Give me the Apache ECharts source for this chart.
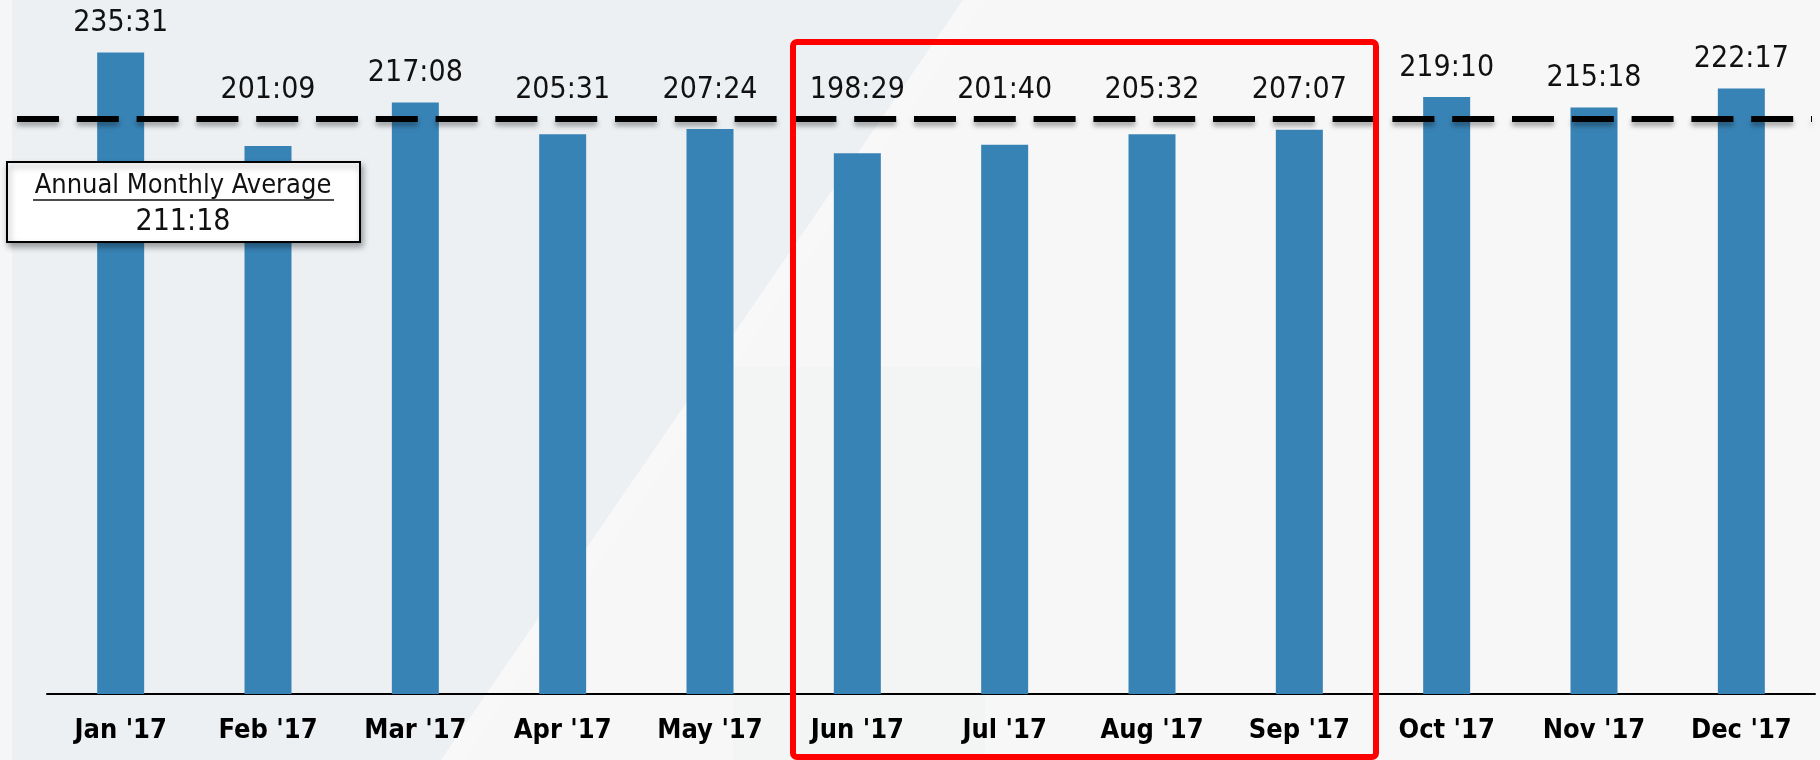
<!DOCTYPE html>
<html>
<head>
<meta charset="utf-8">
<style>
  html, body { margin: 0; padding: 0; background: #f7f7f7; }
  #main { width: 1820px; height: 760px; }
</style>
<script src="https://cdn.jsdelivr.net/npm/echarts@6/dist/echarts.min.js"></script>
</head>
<body>
<div id="main"></div>
<script>
// monthly totals, hours:minutes
var months = ["Jan '17", "Feb '17", "Mar '17", "Apr '17", "May '17", "Jun '17",
              "Jul '17", "Aug '17", "Sep '17", "Oct '17", "Nov '17", "Dec '17"];
var durations = ['235:31', '201:09', '217:08', '205:31', '207:24', '198:29',
                 '201:40', '205:32', '207:07', '219:10', '215:18', '222:17'];
var averageLabel = '211:18';

function toHours(s) {
    var p = s.split(':');
    return Number(p[0]) + Number(p[1]) / 60;
}
var values = durations.map(toHours);
var avgValue = toHours(averageLabel);

var FONT = "'DejaVu Sans Condensed', 'DejaVu Sans', sans-serif";

var myChart = echarts.init(document.getElementById('main'));

var option = {
    backgroundColor: '#f7f7f7',
    animation: false,
    grid: {left: 47, right: 5, top: 13, bottom: 66},
    xAxis: {
        type: 'category',
        data: months,
        axisLine: {lineStyle: {color: '#000', width: 2}},
        axisTick: {show: false},
        axisLabel: {
            color: '#000',
            fontFamily: FONT,
            fontWeight: 'bold',
            fontSize: 27,
            margin: 23
        }
    },
    yAxis: {
        type: 'value',
        min: 0,
        max: 250,
        show: false
    },
    graphic: [
        // slide background shapes
        {
            type: 'polygon', z: 0, silent: true,
            shape: {points: [[0, 0], [963, 0], [441, 760], [0, 760]]},
            style: {fill: '#edf0f3'}
        },
        {
            type: 'polygon', z: 0, silent: true,
            shape: {points: [[963, 0], [985, 0], [463, 760], [441, 760]]},
            style: {fill: 'rgba(255,255,255,0.22)'}
        },
        {
            type: 'rect', z: 0, silent: true,
            shape: {x: 733, y: 367, width: 252, height: 393},
            style: {fill: 'rgba(226,240,232,0.2)'}
        },
        {
            type: 'rect', z: 0, silent: true,
            shape: {x: 0, y: 0, width: 12, height: 760},
            style: {fill: '#f5f6f7'}
        },
        // highlight box Jun - Sep
        {
            type: 'rect', z: 50, silent: true,
            shape: {x: 793, y: 42, width: 583, height: 715, r: 4},
            style: {fill: null, stroke: '#ff0000', lineWidth: 6}
        },
        // average call-out
        {
            type: 'group', z: 100,
            children: [
                {
                    type: 'rect', z: 100,
                    shape: {x: 7, y: 162, width: 353, height: 80},
                    style: {
                        fill: '#ffffff', stroke: '#000', lineWidth: 2,
                        shadowBlur: 6, shadowOffsetX: 2, shadowOffsetY: 4,
                        shadowColor: 'rgba(0,0,0,0.35)'
                    }
                },
                {
                    type: 'text', z: 101,
                    style: {
                        x: 183, y: 186, text: 'Annual Monthly Average',
                        fill: '#111', font: '27px ' + FONT,
                        align: 'center', verticalAlign: 'middle'
                    }
                },
                {
                    type: 'line', z: 101,
                    shape: {x1: 33, y1: 200, x2: 334, y2: 200},
                    style: {stroke: '#111', lineWidth: 1.5}
                },
                {
                    type: 'text', z: 101,
                    style: {
                        x: 183, y: 222, text: averageLabel,
                        fill: '#111', font: '30px ' + FONT,
                        align: 'center', verticalAlign: 'middle'
                    }
                }
            ]
        }
    ],
    series: [
        {
            type: 'bar',
            data: values,
            barWidth: 47,
            clip: false,
            itemStyle: {color: '#3883b6'},
            label: {
                show: true,
                position: 'top',
                color: '#111',
                fontFamily: FONT,
                fontSize: 30,
                formatter: function (p) { return durations[p.dataIndex]; }
            },
            // keep labels above the dashed average line
            labelLayout: function (p) {
                var r = p.rect;
                var base = r.y + r.height;
                var perUnit = r.height / values[p.dataIndex];
                var avgY = base - avgValue * perUnit;
                return {
                    x: r.x + r.width / 2,
                    y: Math.min(r.y - 29, avgY - 28),
                    align: 'center',
                    verticalAlign: 'middle'
                };
            },
            markLine: {
                silent: true,
                symbol: 'none',
                label: {show: false},
                lineStyle: {
                    color: '#000',
                    width: 6,
                    type: [42, 17.8],
                    cap: 'butt',
                    shadowBlur: 5,
                    shadowOffsetY: 4,
                    shadowColor: 'rgba(0,0,0,0.35)'
                },
                data: [[{yAxis: avgValue, x: 17}, {yAxis: avgValue, x: 1812}]]
            }
        }
    ]
};

myChart.setOption(option);

window.onresize = function () {
    myChart.resize();
};
</script>
</body>
</html>
